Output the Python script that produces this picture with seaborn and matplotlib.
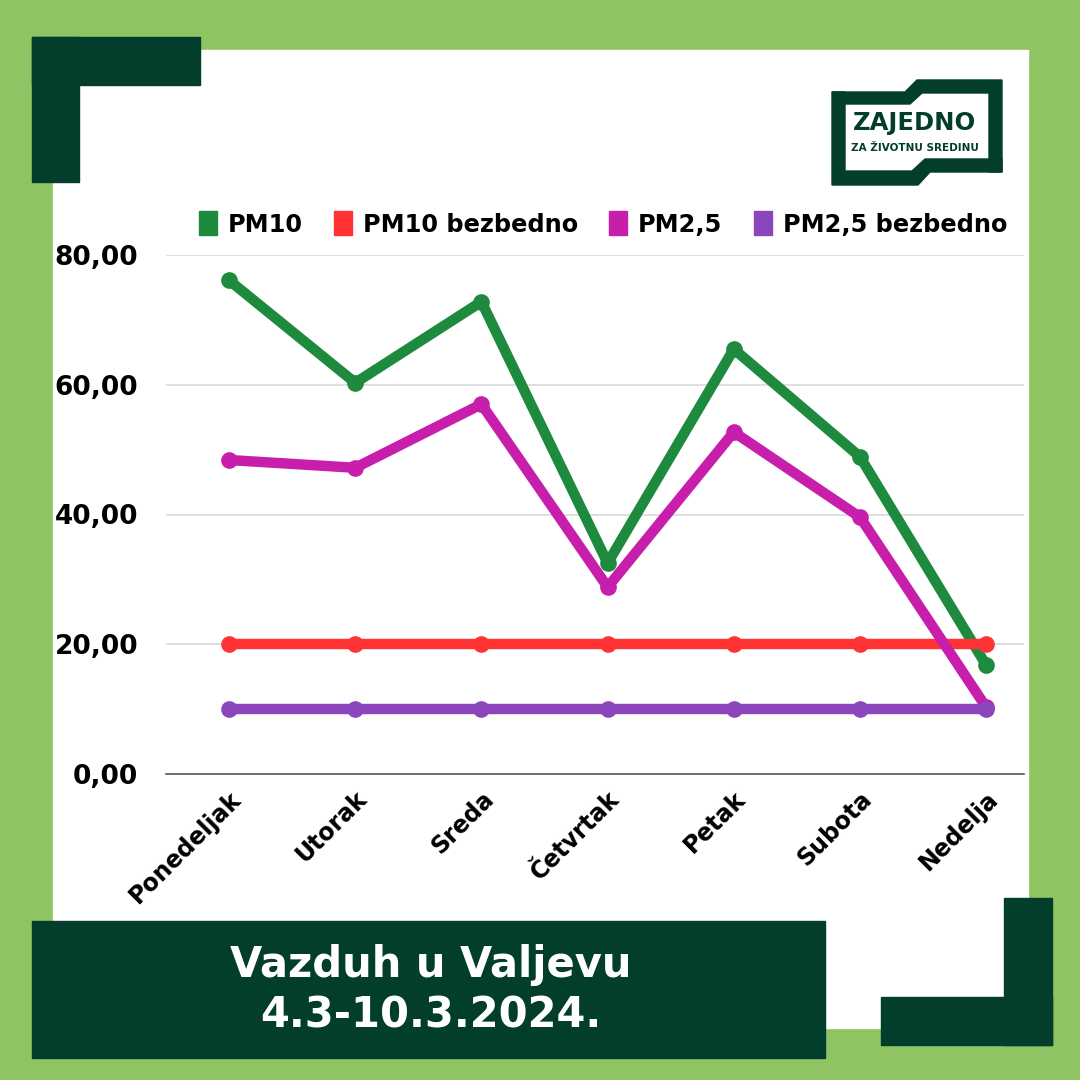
import matplotlib
matplotlib.use("Agg")
import matplotlib.pyplot as plt
import matplotlib.transforms as mtrans
from matplotlib.patches import Rectangle, Polygon, Patch
import pandas as pd
import seaborn as sns

dani = ["Ponedeljak", "Utorak", "Sreda", "Četvrtak", "Petak", "Subota", "Nedelja"]
pm10 = [76.1, 60.3, 72.8, 32.5, 65.5, 48.9, 16.8]
pm10_bezbedno = [20, 20, 20, 20, 20, 20, 20]
pm25 = [48.4, 47.2, 57.0, 28.8, 52.7, 39.6, 10.3]
pm25_bezbedno = [10, 10, 10, 10, 10, 10, 10]
serije = ["PM10", "PM10 bezbedno", "PM2,5", "PM2,5 bezbedno"]
boje = ["#1e8a3e", "#ff3333", "#c71eab", "#8c46bc"]
y_ticks = [0, 20, 40, 60, 80]
naslov = "Vazduh u Valjevu\n4.3-10.3.2024."

BG = "#8fc463"
DARK = "#033d2c"

df = pd.DataFrame({
    "dan": dani * 4,
    "x": list(range(len(dani))) * 4,
    "vrednost": pm10 + pm10_bezbedno + pm25 + pm25_bezbedno,
    "serija": [s for s in serije for _ in dani],
})

sns.set_theme(style="white")
plt.rcParams["font.family"] = ["DejaVu Sans"]
plt.rcParams["text.color"] = "black"

W = 1080
fig = plt.figure(figsize=(10.8, 10.8), dpi=100, facecolor=BG)


def px_axes(x0, y0, x1, y1, **kw):
    # pixel box (top-left origin) -> figure axes
    return fig.add_axes([x0 / W, 1 - y1 / W, (x1 - x0) / W, (y1 - y0) / W], **kw)


# background decoration
deco = fig.add_axes([0, 0, 1, 1], zorder=0)
deco.set_xlim(0, W)
deco.set_ylim(W, 0)
deco.axis("off")
deco.add_patch(Rectangle((53, 50), 975, 978, color="white"))
deco.add_patch(Rectangle((32, 37), 168, 48, color=DARK))
deco.add_patch(Rectangle((32, 37), 47, 145, color=DARK))
deco.add_patch(Rectangle((1004, 898), 48, 147, color=DARK))
deco.add_patch(Rectangle((881, 997), 171, 48, color=DARK))

# chart
ax = px_axes(166, 255, 1024, 774, zorder=1)
ax.set_facecolor("none")
sns.lineplot(data=df, x="x", y="vrednost", hue="serija", hue_order=serije,
             palette=boje, marker="o", markersize=12, markeredgewidth=0,
             linewidth=7.5, sort=False, legend=False, ax=ax, clip_on=False)
ax.set_xlim(-0.5, 6.3)
ax.set_ylim(0, 80)
ax.set_yticks(y_ticks)
ax.set_yticklabels([f"{v:.2f}".replace(".", ",") for v in y_ticks],
                   fontsize=19, fontweight="bold", color="black")
ax.set_xticks(range(len(dani)))
ax.set_xticklabels(dani, rotation=45, ha="right", va="top", rotation_mode="anchor",
                   fontsize=17, fontweight="bold", color="black")
off = mtrans.ScaledTranslation(16 / 100, 0, fig.dpi_scale_trans)
for lbl in ax.get_xticklabels():
    lbl.set_transform(lbl.get_transform() + off)
ax.tick_params(axis="y", length=0, pad=20)
ax.tick_params(axis="x", length=0, pad=9)
ax.set_xlabel("")
ax.set_ylabel("")
for v in y_ticks[1:]:
    ax.axhline(v, color="#d9d9d9", linewidth=1.2, zorder=0)
for s in ["top", "right", "left"]:
    ax.spines[s].set_visible(False)
ax.spines["bottom"].set_color("#555555")
ax.spines["bottom"].set_linewidth(1.2)

fig.legend(handles=[Patch(color=c, label=s) for s, c in zip(serije, boje)],
           loc="center", bbox_to_anchor=(603 / W, 1 - 224 / W), ncol=4,
           frameon=False, prop={"size": 17.3, "weight": "bold"},
           labelcolor="black",
           handlelength=0.75, handleheight=1.15, handletextpad=0.45,
           columnspacing=1.3)

# overlay: title banner and logo
top = fig.add_axes([0, 0, 1, 1], zorder=2)
top.set_xlim(0, W)
top.set_ylim(W, 0)
top.axis("off")
top.set_facecolor("none")
top.add_patch(Rectangle((32, 921), 793, 137, color=DARK))
top.text(431, 990, naslov, ha="center", va="center", color="white",
         fontsize=30, fontweight="bold", linespacing=1.25)

# logo frame
top.add_patch(Polygon([(832, 92), (905, 92), (917, 80), (1002, 80), (1002, 172),
                       (989, 172), (989, 93), (922, 93), (910, 104), (845, 104)],
                      color=DARK))
top.add_patch(Polygon([(832, 92), (845, 92), (845, 171), (912, 171), (925, 159),
                       (1002, 159), (1002, 172), (930, 172), (918, 185), (832, 185)],
                      color=DARK))
top.text(915, 123, "ZAJEDNO", ha="center", va="center", color=DARK,
         fontsize=17.5, fontweight="bold")
top.text(915, 148, "ZA ŽIVOTNU SREDINU", ha="center", va="center", color=DARK,
         fontsize=7.5, fontweight="bold")

fig.savefig("out.png", dpi=100, facecolor=BG)
